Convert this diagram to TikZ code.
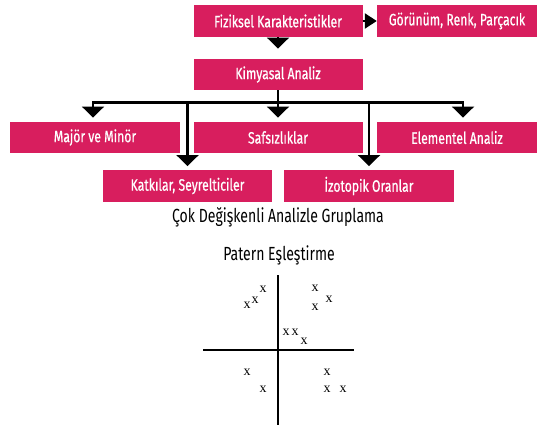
\documentclass[tikz,border=0pt]{standalone}
\usepackage{fontspec}
\setmainfont[FakeStretch=0.74]{Fira Sans}
\newfontfamily\boxfont[FakeStretch=0.74, FakeBold=0.6]{Fira Sans}
\newfontfamily\markfont{Liberation Serif}
\usepackage{tikz}
\usetikzlibrary{arrows.meta, positioning, calc}
\definecolor{boxpink}{HTML}{D81E5E}

\begin{document}
\begin{tikzpicture}[
    x=1pt, y=-1pt,
    box/.style={fill=boxpink, text=white, minimum width=169pt, minimum height=31.5pt,
                inner sep=0pt, font=\boxfont\fontsize{16.5}{19}\selectfont},
    line/.style={draw=black, line width=2.2pt},
    arrow/.style={line, -{Triangle[width=22pt, length=11pt]}},
    sidearrow/.style={line, -{Triangle[width=15pt, length=12pt]}},
    xmark/.style={font=\markfont\fontsize{14}{14}\selectfont, inner sep=0pt}
]
\useasboundingbox (0,0) rectangle (537,427);

% Top row
\node[box] (fiz) at (278,21) {Fiziksel Karakteristikler};
\node[box, minimum width=160pt] (gor) at (457,21) {Görünüm, Renk, Parçacık};
\node[box] (kim) at (278,74.5) {Kimyasal Analiz};

% Middle rows
\node[box, minimum width=170pt] (maj) at (95,137.5) {Majör ve Minör};
\node[box] (saf) at (278,137.5) {Safsızlıklar};
\node[box, minimum width=160pt] (ele) at (457,137.5) {Elementel Analiz};
\node[box] (kat) at (187.5,186) {Katkılar, Seyrelticiler};
\node[box, minimum width=170pt] (izo) at (369,186) {İzotopik Oranlar};

% Connections
\draw[sidearrow] (fiz.east) -- (gor.west);
\draw[arrow, shorten >=10pt] (fiz.south) -- (kim.north);
\draw[line] (kim.south) -- ++(0,12) coordinate (bus);
\draw[arrow, shorten >=4pt] (bus) -| ([xshift=-2pt]maj.north);
\draw[arrow, shorten >=4pt] (bus) -- (saf.north);
\draw[arrow, shorten >=4pt] (bus) -| ([xshift=6pt]ele.north);
\draw[arrow, shorten >=4pt] (bus) -| (kat.north);
\draw[arrow, shorten >=4pt] (bus) -| (izo.north);

% Titles
\node[font=\fontsize{19}{22}\selectfont] (grp) at (278,217) {Çok Değişkenli Analizle Gruplama};
\node[font=\fontsize{19}{22}\selectfont] (pat) at (279,255) {Patern Eşleştirme};

% Pattern plot
\draw[line width=1.4pt] (278,275) -- (278,425);
\draw[line width=1.4pt] (203,350) -- (354,350);
\foreach \px/\py in {263/289, 255/300, 247/305, 315/288, 329/299, 315/307,
                     286/332, 295/332, 304/341, 247/372, 263/389, 327/372,
                     327/389, 343/389} {
    \node[xmark] at (\px,\py) {x};
}

\end{tikzpicture}
\end{document}
